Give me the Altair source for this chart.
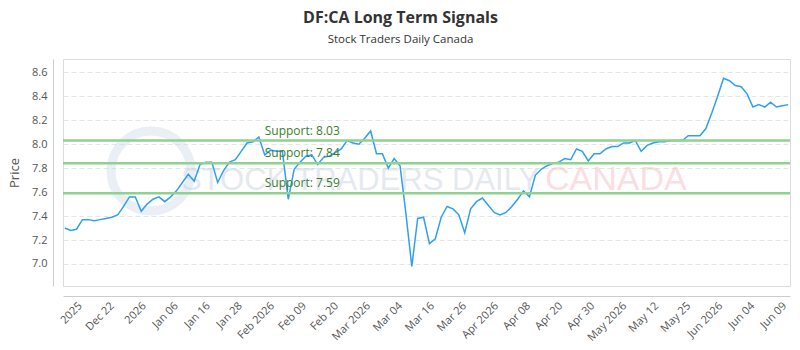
import altair as alt
import pandas as pd
import numpy as np

# ---- data ----
prices = [
    7.30, 7.28, 7.29, 7.37, 7.37, 7.36, 7.37, 7.38, 7.39, 7.41,
    7.48, 7.56, 7.56, 7.44, 7.50, 7.54, 7.56, 7.52, 7.56, 7.61,
    7.68, 7.75, 7.69, 7.83, 7.85, 7.85, 7.68, 7.78, 7.85, 7.87,
    7.94, 8.01, 8.02, 8.06, 7.91, 7.95, 7.94, 7.94, 7.54, 7.79,
    7.85, 7.90, 7.91, 7.83, 7.89, 7.90, 7.93, 7.96, 8.03, 8.01,
    8.00, 8.05, 8.11, 7.92, 7.92, 7.80, 7.88, 7.82, 7.42, 6.98,
    7.38, 7.39, 7.17, 7.21, 7.39, 7.48, 7.46, 7.41, 7.26, 7.46,
    7.52, 7.55, 7.49, 7.43, 7.41, 7.43, 7.48, 7.54, 7.61, 7.56,
    7.74, 7.79, 7.82, 7.84, 7.85, 7.88, 7.87, 7.96, 7.94, 7.86,
    7.92, 7.92, 7.96, 7.98, 7.98, 8.01, 8.01, 8.03, 7.94, 7.99,
    8.01, 8.02, 8.02, 8.03, 8.03, 8.03, 8.07, 8.07, 8.07, 8.13,
    8.26, 8.40, 8.55, 8.53, 8.49, 8.48, 8.42, 8.31, 8.33, 8.31,
    8.35, 8.31, 8.32, 8.33,
]
tick_labels = ["2025", "Dec 22", "2026", "Jan 06", "Jan 16", "Jan 28", "Feb 2026",
               "Feb 09", "Feb 20", "Mar 2026", "Mar 04", "Mar 16", "Mar 26",
               "Apr 2026", "Apr 08", "Apr 20", "Apr 30", "May 2026", "May 12",
               "May 25", "Jun 2026", "Jun 04", "Jun 09"]
y_ticks = [7.0, 7.2, 7.4, 7.6, 7.8, 8.0, 8.2, 8.4, 8.6]
support_levels = [8.03, 7.84, 7.59]
support_text = ["Support: 8.03", "Support: 7.84", "Support: 7.59"]
support_label_day = 34

n = len(prices)
df = pd.DataFrame({"idx": np.arange(n), "price": prices})
sup = pd.DataFrame({"idx": [support_label_day] * len(support_levels),
                    "price": support_levels, "text": support_text})

tick_start = 2.6
tick_step = 5.445
tick_vals = [round(tick_start + tick_step * k, 3) for k in range(len(tick_labels))]
label_arr = "[" + ",".join("'" + t + "'" for t in tick_labels) + "]"
label_expr = f"{label_arr}[round((datum.value - {tick_start}) / {tick_step})]"

FONT = "Open Sans"

xscale = alt.Scale(domain=[-0.3, n - 1 + 0.3], nice=False, zero=False)
yscale = alt.Scale(domain=[6.816, 8.711], nice=False, zero=False)

x_axis = alt.Axis(
    values=tick_vals, labelExpr=label_expr, labelAngle=-45, labelAlign="right",
    labelBaseline="middle", labelFont=FONT, labelFontSize=11, labelColor="#555555",
    grid=False, ticks=False, domainColor="#cccccc", offset=10, labelPadding=8,
    title=None, labelOverlap=False, labelBound=False, labelFlush=False)
y_axis = alt.Axis(
    values=y_ticks, format=".1f", labelOverlap=False,
    labelFont=FONT, labelFontSize=11, labelColor="#555555", ticks=False,
    domainColor="#cccccc", offset=10, labelPadding=6, grid=True,
    gridColor="#e6e6e6", gridDash=[5, 3], title="Price", titleFont=FONT,
    titleFontSize=13, titleFontWeight="normal", titleColor="#555555",
    titlePadding=10)

x_enc = alt.X("idx:Q", scale=xscale, axis=x_axis)
y_enc = alt.Y("price:Q", scale=yscale, axis=y_axis)

# watermark
wm_circle = alt.Chart(pd.DataFrame({"a": [0]})).mark_point(
    shape="circle", size=6400, filled=False, stroke="#c5d3e3", strokeWidth=9,
    opacity=0.35).encode(x=alt.value(88), y=alt.value(112))
wm_text1 = alt.Chart(pd.DataFrame({"t": ["STOCK TRADERS DAILY"]})).mark_text(
    font="Liberation Sans", fontSize=31, align="left", baseline="alphabetic",
    color="#c5d0de", opacity=0.45).encode(text="t:N", x=alt.value(118), y=alt.value(131))
wm_text2 = alt.Chart(pd.DataFrame({"t": ["CANADA"]})).mark_text(
    font="Liberation Sans", fontSize=34, align="left", baseline="alphabetic",
    color="#f4b8bd", opacity=0.45).encode(text="t:N", x=alt.value(482), y=alt.value(131))

sup_rules = alt.Chart(sup).mark_rule(color="#90d090", strokeWidth=2.5).encode(y=y_enc)
sup_labels = alt.Chart(sup).mark_text(
    align="left", baseline="alphabetic", dy=-6, font=FONT, fontSize=12,
    color="#3b7d2f").encode(x=x_enc, y=y_enc, text="text:N")

line = alt.Chart(df).mark_line(color="#2f9ff2", strokeWidth=1.5).encode(x=x_enc, y=y_enc)

chart = alt.layer(wm_circle, wm_text1, wm_text2, line, sup_rules, sup_labels).properties(
    width=727, height=227,
    title=alt.TitleParams(
        text="DF:CA Long Term Signals", subtitle="Stock Traders Daily Canada",
        font=FONT, fontSize=16, fontWeight="bold", color="#333333",
        subtitleFont=FONT, subtitleFontSize=11.5, subtitleColor="#333333",
        anchor="middle", dx=-26, offset=14, subtitlePadding=8),
    autosize=alt.AutoSizeParams(type="none"),
    padding={"left": 63, "top": 59, "right": 10, "bottom": 64},
).configure_view(stroke="#888888", strokeWidth=1.2).configure(background="white")

chart.save("out.html", embed_options={"renderer": "svg", "actions": False})
